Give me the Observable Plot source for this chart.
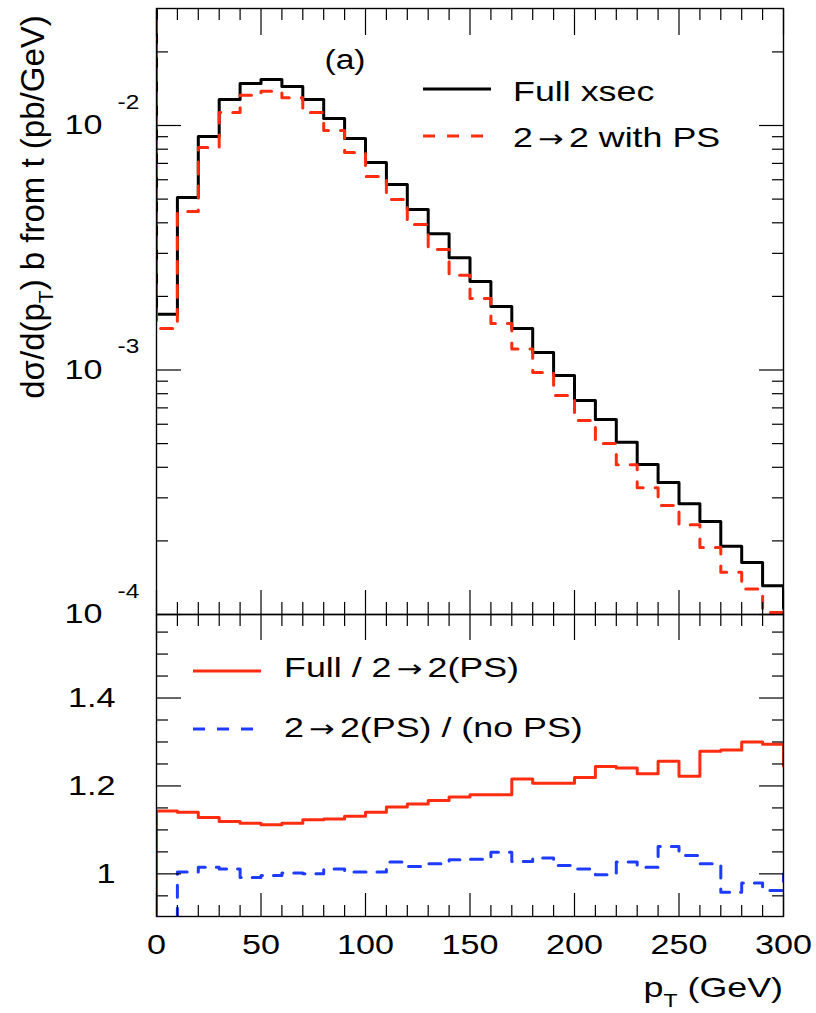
<!DOCTYPE html>
<html><head><meta charset="utf-8">
<script src="https://cdn.jsdelivr.net/npm/d3@7"></script>
<script src="https://cdn.jsdelivr.net/npm/@observablehq/plot@0.6"></script>
<style>
body{margin:0;background:#fff;}
#wrap{position:relative;width:816px;height:1013px;font-family:"Liberation Sans",Arial,sans-serif;}
#wrap svg{position:absolute;left:0;overflow:visible;}
</style></head><body><div id="wrap"></div>
<script>
// ---- data (10 GeV bins; last entry is the overflow bin 300-310) ----
const binLow = [0,10,20,30,40,50,60,70,80,90,100,110,120,130,140,150,160,170,180,190,200,210,220,230,240,250,260,270,280,290,300];
const fullXsec = [1.69e-3,5.08e-3,9.02e-3,1.277e-2,1.485e-2,1.542e-2,1.444e-2,1.277e-2,1.068e-2,8.85e-3,7.06e-3,5.74e-3,4.53e-3,3.61e-3,2.88e-3,2.30e-3,1.82e-3,1.48e-3,1.18e-3,9.50e-4,7.50e-4,6.28e-4,5.06e-4,4.11e-4,3.47e-4,2.84e-4,2.40e-4,1.90e-4,1.63e-4,1.31e-4,1.06e-4];
const twoToTwoPS = [1.48e-3,4.45e-3,8.13e-3,1.13e-2,1.33e-2,1.38e-2,1.30e-2,1.13e-2,9.55e-3,7.76e-3,6.18e-3,4.98e-3,3.94e-3,3.11e-3,2.44e-3,1.96e-3,1.55e-3,1.22e-3,9.77e-4,7.87e-4,6.21e-4,5.00e-4,4.10e-4,3.30e-4,2.79e-4,2.33e-4,1.88e-4,1.49e-4,1.27e-4,1.02e-4,8.0e-5];
const underflowTop = 1; // drawn off the top of the frame
const ratioFull = [1.143,1.140,1.128,1.119,1.115,1.112,1.115,1.123,1.125,1.131,1.140,1.152,1.159,1.167,1.175,1.180,1.180,1.216,1.206,1.206,1.219,1.244,1.241,1.228,1.256,1.222,1.279,1.282,1.300,1.295,1.245];
const ratioPS = [0,1.004,1.015,1.011,0.992,0.996,1.002,1.000,1.011,1.004,1.004,1.027,1.017,1.023,1.032,1.033,1.049,1.028,1.036,1.019,1.011,0.998,1.027,1.015,1.062,1.042,1.023,0.958,0.979,0.962,1.000];
const underflowRatio = 0;

// ---- ticks / labels ----
const xMajor = [0,50,100,150,200,250,300];
const xTickLabels = ["0","50","100","150","200","250","300"];
const xMinor = d3.range(0,301,10).filter(v => v % 50 !== 0);
const logMajor = [1e-4,1e-3,1e-2];
const logMantissa = ["10","10","10"];
const logExponent = ["-4","-3","-2"];
const logMinor = [2,3,4,5,6,7,8,9].flatMap(k => logMajor.map(d => d*k)).filter(v => v < 0.03);
const ratioMajor = [1.0,1.2,1.4];
const ratioTickLabels = ["1","1.2","1.4"];
const ratioMinor = [0.95,1.05,1.1,1.15,1.25,1.3,1.35,1.45,1.5,1.55];

const RED = "#ff2d10", BLUE = "#1e3cff";
const FONT = "Liberation Sans, Arial, Helvetica, sans-serif";
const W = 816, mL = 156, mR = 33;

const toPts = (vals, under) => [{x: binLow[0], y: under}, ...binLow.map((x,i) => ({x, y: vals[i]}))];
const fullPts = toPts(fullXsec, underflowTop);
const psPts = toPts(twoToTwoPS, underflowTop);
const rFullPts = toPts(ratioFull, underflowRatio);
const rPSPts = binLow.map((x,i) => ({x, y: ratioPS[i]}));

const tickAxes = (yMajor, yMinor, sizes) => [
  Plot.axisX(xMajor, {anchor: "top", tickSize: -sizes.xTopMaj, fill: "none", label: null, strokeWidth: 1.2}),
  Plot.axisX(xMinor, {anchor: "top", tickSize: -sizes.xTopMin, fill: "none", label: null, strokeWidth: 1.2}),
  Plot.axisX(xMajor, {anchor: "bottom", tickSize: -sizes.xBotMaj, fill: "none", label: null, strokeWidth: 1.2}),
  Plot.axisX(xMinor, {anchor: "bottom", tickSize: -sizes.xBotMin, fill: "none", label: null, strokeWidth: 1.2}),
  Plot.axisY(yMajor, {anchor: "left", tickSize: -25, fill: "none", label: null, strokeWidth: 1.2}),
  Plot.axisY(yMinor, {anchor: "left", tickSize: -12, fill: "none", label: null, strokeWidth: 1.2}),
  Plot.axisY(yMajor, {anchor: "right", tickSize: -25, fill: "none", label: null, strokeWidth: 1.2}),
  Plot.axisY(yMinor, {anchor: "right", tickSize: -12, fill: "none", label: null, strokeWidth: 1.2})
];

const topPlot = Plot.plot({
  width: W, height: 640, marginLeft: mL, marginRight: mR, marginTop: 8, marginBottom: 26,
  x: {domain: [0,300], axis: null, label: null},
  y: {type: "log", domain: [1e-4, 0.0301], axis: null, label: null},
  style: {background: "transparent", fontFamily: FONT, overflow: "visible", color: "black"},
  marks: [
    Plot.line(fullPts, {x: "x", y: "y", curve: "step-after", stroke: "black", strokeWidth: 3, clip: true}),
    Plot.line(psPts, {x: "x", y: "y", curve: "step-after", stroke: RED, strokeWidth: 3, strokeDasharray: "12,12", clip: true}),
    ...tickAxes(logMajor, logMinor, {xTopMaj: 26, xTopMin: 11, xBotMaj: 24, xBotMin: 12}),
    Plot.frame({stroke: "black", strokeWidth: 1.4}),
    Plot.text(logMajor, {y: d => d, frameAnchor: "left", text: (d,i) => logMantissa[i], textAnchor: "end", dx: -54, fontSize: 28, fill: "black"}),
    Plot.text(logMajor, {y: d => d, frameAnchor: "left", text: (d,i) => logExponent[i], textAnchor: "start", dx: -39, dy: -23, fontSize: 20, fill: "black"})
  ]
});

const botPlot = Plot.plot({
  width: W, height: 399, marginLeft: mL, marginRight: mR, marginTop: 0, marginBottom: 97,
  x: {domain: [0,300], axis: null, label: null},
  y: {domain: [0.903, 1.59], axis: null, label: null},
  style: {background: "transparent", fontFamily: FONT, overflow: "visible", color: "black"},
  marks: [
    Plot.line(rFullPts, {x: "x", y: "y", curve: "step-after", stroke: RED, strokeWidth: 3, clip: true}),
    Plot.line(rPSPts, {x: "x", y: "y", curve: "step-after", stroke: BLUE, strokeWidth: 3, strokeDasharray: "12,11", clip: true}),
    ...tickAxes(ratioMajor, ratioMinor, {xTopMaj: 25, xTopMin: 11, xBotMaj: 23, xBotMin: 11}),
    Plot.frame({stroke: "black", strokeWidth: 1.4}),
    Plot.axisX(xMajor, {anchor: "bottom", tickSize: 0, tickPadding: 18, fontSize: 28, label: null, tickFormat: (d,i) => xTickLabels[i]}),
    Plot.axisY(ratioMajor, {anchor: "left", tickSize: 0, tickPadding: 41, fontSize: 28, label: null, tickFormat: (d,i) => ratioTickLabels[i]})
  ]
});

const wrap = document.getElementById("wrap");
botPlot.style.top = "614px";
topPlot.style.top = "0px";
topPlot.style.zIndex = 2;
wrap.appendChild(botPlot);
wrap.appendChild(topPlot);

// stretch horizontal Plot text to match the wide Helvetica look of the original
const STRETCH = 1.22;
for (const t of wrap.querySelectorAll("svg text")) {
  const len = t.getComputedTextLength();
  if (len > 0) { t.setAttribute("textLength", len * STRETCH); t.setAttribute("lengthAdjust", "spacingAndGlyphs"); }
}

// custom annotations (titles + legends)
const ts = d3.select(topPlot), bs = d3.select(botPlot);
function label(sel, x, y, anchor, size, parts, sx = 1.25) {
  const t = sel.append("text").attr("transform", `translate(${x},${y}) scale(${sx},1)`)
    .attr("text-anchor", anchor).attr("font-size", size).attr("font-family", FONT).attr("fill", "black");
  for (const p of parts) {
    const s = t.append("tspan").text(p.text);
    if (p.arrow) s.attr("font-family", "DejaVu Sans").attr("font-size", 24);
    if (p.size) s.attr("font-size", p.size);
    if (p.dy) s.attr("dy", p.dy);
    if (p.dx) s.attr("dx", p.dx);
  }
  return t;
}
const withArrow = (a, b) => [{text: a}, {text: "→", arrow: true, dx: 4}, {text: b, dx: 4}];
// y-axis title (rotated)
{
  const t = ts.append("text").attr("transform", "translate(44,207) rotate(-90)")
    .attr("text-anchor", "middle").attr("font-size", 33).attr("font-family", FONT).attr("fill", "black");
  t.append("tspan").text("dσ/d(p");
  t.append("tspan").attr("font-size", 21).attr("dy", 9).text("T");
  t.append("tspan").attr("dy", -9).text(") b from t (pb/GeV)");
}
// (a)
label(ts, 345, 69, "middle", 28, [{text: "(a)"}], 1.2);
// top legend
ts.append("line").attr("x1", 423).attr("x2", 491).attr("y1", 89).attr("y2", 89).attr("stroke", "black").attr("stroke-width", 3);
label(ts, 513, 101, "start", 28, [{text: "Full xsec"}], 1.28);
ts.append("line").attr("x1", 423).attr("x2", 491).attr("y1", 136).attr("y2", 136).attr("stroke", RED).attr("stroke-width", 3).attr("stroke-dasharray", "12,12");
label(ts, 513, 147, "start", 28, withArrow("2", "2 with PS"), 1.28);
// bottom legend
bs.append("line").attr("x1", 193).attr("x2", 261).attr("y1", 57).attr("y2", 57).attr("stroke", RED).attr("stroke-width", 3);
label(bs, 284, 63, "start", 28, withArrow("Full / 2", "2(PS)"), 1.28);
bs.append("line").attr("x1", 193).attr("x2", 261).attr("y1", 115).attr("y2", 115).attr("stroke", BLUE).attr("stroke-width", 3).attr("stroke-dasharray", "12,12");
label(bs, 284, 123, "start", 28, withArrow("2", "2(PS) / (no PS)"), 1.28);
// x-axis title
label(bs, 783, 383, "end", 28, [{text: "p"}, {text: "T", size: 18, dy: 10}, {text: " (GeV)", dy: -10}], 1.28);
</script></body></html>
